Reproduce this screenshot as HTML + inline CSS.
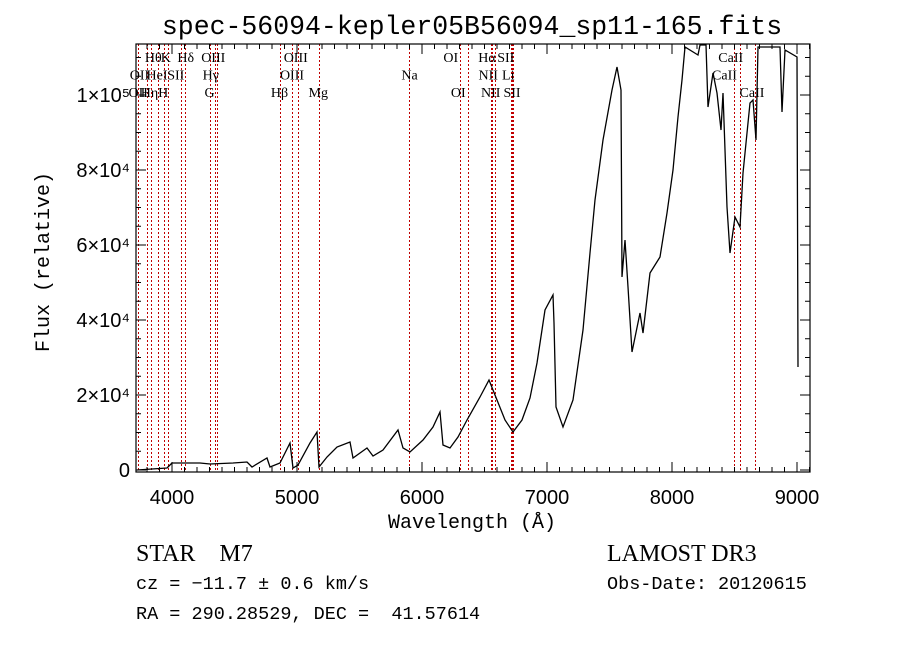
<!DOCTYPE html>
<html><head><meta charset="utf-8"><style>
html,body{margin:0;padding:0;background:#fff;}
svg{display:block;font-family:"Liberation Serif",serif;}
.m{font-family:"Liberation Mono",monospace;}
</style></head><body>
<svg id="chart" width="900" height="649" viewBox="0 0 900 649" xmlns="http://www.w3.org/2000/svg">
<rect width="900" height="649" fill="#fff"/>
<text class="m" x="472" y="34" font-size="26.5" text-anchor="middle">spec-56094-kepler05B56094_sp11-165.fits</text>
<g id="lines"></g>
<g id="labels" font-size="14"></g>
<path id="spec" fill="none" stroke="#000" stroke-width="1.3"/>
<rect x="136" y="44" width="674" height="428" fill="none" stroke="#000" stroke-width="1.2"/>
<g id="ticks" stroke="#000" stroke-width="1"></g>
<g id="tlabels" font-family="Liberation Sans, sans-serif" font-size="20"></g>
<text class="m" x="472" y="528" font-size="20" text-anchor="middle">Wavelength (Å)</text>
<text class="m" transform="translate(49,262) rotate(-90)" font-size="20" text-anchor="middle">Flux (relative)</text>
<text x="136" y="561" font-size="24">STAR&#160;&#160;&#160;&#160;M7</text>
<text x="607" y="561" font-size="24">LAMOST DR3</text>
<text class="m" x="136" y="589" font-size="18.5">cz = −11.7 ± 0.6 km/s</text>
<text class="m" x="607" y="589" font-size="18.5">Obs-Date: 20120615</text>
<text class="m" x="136" y="619" font-size="18.5">RA = 290.28529, DEC =&#160; 41.57614</text>
</svg>
<script>
const wavePx = [137,167,170,172,183,200,210,233,247,252,267,270,280,290,293,298,310,317,319,327,337,350,353,367,373,383,398,403,410,423,433,440,443,450,458,467,480,489,497,505,513,522,530,537,545,553,554,556,563,573,583,590,595,603,612,617,621,622,625,628,632,640,643,650,660,667,673,678,682,685,698,700,706,708,713,717,721,723,727,730,735,740,743,750,753,756,758,780,782,785,797,798];
const fluxPx = [470,468,465,463,463,463,464,463,462,467,458,467,463,443,468,465,443,432,467,457,447,442,458,448,456,450,430,448,452,440,427,412,445,448,437,420,397,380,400,420,432,420,398,363,310,295,323,407,427,400,330,253,200,140,90,67,90,277,240,287,352,313,333,273,257,213,170,117,80,47,55,45,45,107,73,93,130,93,207,253,217,227,173,103,100,140,47,47,112,50,57,367];
// convert traced readings to data units
const wavelengths = wavePx.map(x => Math.round(4000 + (x - 172) / 0.125));
const fluxes = fluxPx.map(y => Math.round((470 - y) / 375 * 1e5));
const lineWaves = [3727,3798,3835,3889,3934,3968,4072,4102,4304,4340,4363,4861,4959,5007,5175,5893,6300,6364,6548,6563,6583,6708,6717,6731,8498,8542,8662];
const labelText = ["Hθ","K","Hδ","OIII","OIII","OI","Hα","SII","CaII","OII","HeI","SII","Hγ","OIII","Na","NII","Li","CaII","OII","HηH","G","Hβ","Mg","OI","NII","SII","CaII"];
const labelWave = [3850,3950,4110,4330,4990,6230,6520,6670,8470,3740,3880,4030,4310,4960,5900,6530,6690,8420,3730,3860,4300,4860,5170,6290,6550,6720,8640];
const labelRow = [0,0,0,0,0,0,0,0,0,1,1,1,1,1,1,1,1,1,2,2,2,2,2,2,2,2,2];
const xTicks = [4000,5000,6000,7000,8000,9000];
const yTicks = [0,20000,40000,60000,80000,100000];
const yTickText = ["0","2×10⁴","4×10⁴","6×10⁴","8×10⁴","1×10⁵"];

const X0=136,X1=810,Y0=44,Y1=472;
const xs = w => 172 + (w - 4000) * 0.125;
const ys = f => 470 - f / 1e5 * 375;
const NS="http://www.w3.org/2000/svg";
function mk(tag, parent){const e=document.createElementNS(NS,tag);parent.appendChild(e);return e;}

let d="";
wavelengths.forEach((w,i)=>{d+=(i?"L":"M")+xs(w).toFixed(1)+" "+Math.max(Y0,ys(fluxes[i])).toFixed(1);});
document.getElementById("spec").setAttribute("d",d);

const lg=document.getElementById("lines");
lineWaves.forEach(w=>{const l=mk("line",lg);


const x=Math.round(xs(w))+0.5;l.setAttribute("x1",x);l.setAttribute("x2",x);l.setAttribute("y1",Y0);l.setAttribute("y2",Y1);
l.setAttribute("stroke","#c00000");l.setAttribute("stroke-width","1");l.setAttribute("stroke-dasharray","2,2");});

const lb=document.getElementById("labels");
labelText.forEach((t,i)=>{const e=mk("text",lb);


e.setAttribute("x",xs(labelWave[i]));e.setAttribute("y",62+labelRow[i]*17.5);e.setAttribute("text-anchor","middle");e.textContent=t;});

const tg=document.getElementById("ticks");
function tick(x1,y1,x2,y2){const l=mk("line",tg);


l.setAttribute("x1",x1);l.setAttribute("y1",y1);l.setAttribute("x2",x2);l.setAttribute("y2",y2);}
for(let w=3800;w<=9100;w+=100){const x=xs(w);if(x<X0||x>X1)continue;const L=(w%1000===0)?10:5;tick(x,Y1,x,Y1-L);tick(x,Y0,x,Y0+L);}
for(let f=0;f<=110000;f+=5000){const y=ys(f);if(y<Y0)continue;const L=(f%20000===0)?10:5;tick(X0,y,X0+L,y);tick(X1,y,X1-L,y);}
const tl=document.getElementById("tlabels");
xTicks.forEach(w=>{const e=mk("text",tl);


e.setAttribute("x",xs(w));e.setAttribute("y",504);e.setAttribute("text-anchor","middle");e.textContent=w;});
yTicks.forEach((f,i)=>{const e=mk("text",tl);


e.setAttribute("x",130);e.setAttribute("y",ys(f)+7);e.setAttribute("text-anchor","end");e.textContent=yTickText[i];});
</script>
</body></html>
